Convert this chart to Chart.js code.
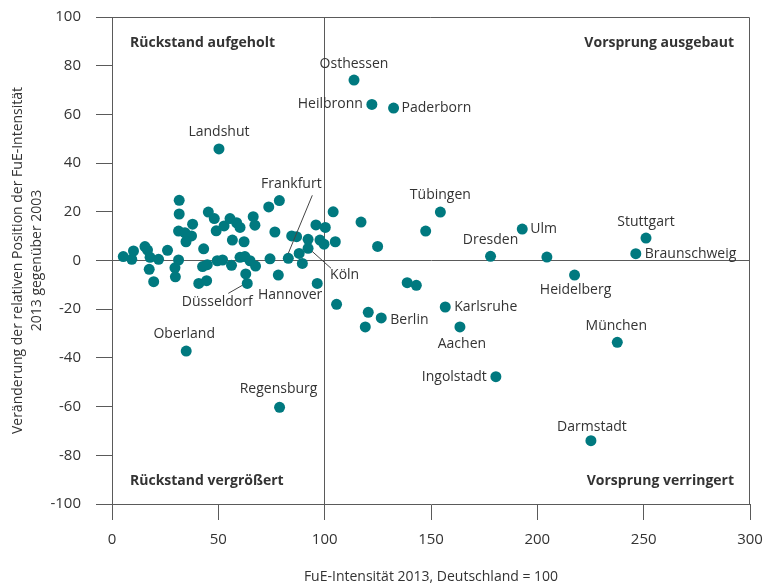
<!DOCTYPE html>
<html>
<head>
<meta charset="utf-8">
<script src="https://cdn.jsdelivr.net/npm/chart.js@4.4.1/dist/chart.umd.min.js"></script>
<style>
  body { margin: 0; background: #fff; }
  canvas { display: block; }
</style>
</head>
<body>
<canvas id="myChart" width="764" height="585"></canvas>
<script>
// named regions (x = FuE-Intensität 2013, y = Veränderung ggü. 2003)
const cityNames = ['Osthessen', 'Heilbronn', 'Paderborn', 'Landshut', 'Frankfurt', 'Köln',
  'Düsseldorf', 'Hannover', 'Tübingen', 'Ulm', 'Dresden', 'Stuttgart', 'Braunschweig',
  'Heidelberg', 'Karlsruhe', 'Berlin', 'Aachen', 'München', 'Ingolstadt', 'Darmstadt',
  'Oberland', 'Regensburg'];
const cityX = [113.8, 122.2, 132.4, 50.3, 82.9, 92.2, 63.6, 96.5, 154.4, 192.9, 178.0, 251.1,
  246.3, 217.5, 156.7, 126.6, 163.6, 237.6, 180.5, 225.2, 34.9, 78.8];
const cityY = [74.1, 64.1, 62.6, 45.8, 0.9, 5.0, -9.4, -9.4, 19.9, 12.9, 1.7, 9.2,
  2.8, -6.0, -19.1, -23.6, -27.3, -33.6, -47.7, -74.0, -37.2, -60.3];

// the other regions, unlabeled
const otherX = [31.6, 31.6, 45.3, 48.1, 37.9, 31.3, 34.3, 37.4, 34.8, 43.1, 26.1, 15.5, 16.7,
  10.1, 5.3, 9.3, 17.9, 21.9, 17.5, 19.6, 31.3, 29.6, 29.8, 40.8, 44.5, 42.6, 44.8, 49.5,
  52.0, 56.2, 49.0, 52.7, 55.5, 58.6, 60.2, 56.6, 62.1, 66.4, 67.2, 60.2, 62.5, 64.9, 67.5,
  62.9, 73.7, 78.7, 76.6, 74.3, 78.2, 84.5, 86.8, 88.0, 89.5, 92.2, 95.9, 100.3, 97.8, 99.7,
  105.0, 104.0, 105.6, 117.1, 124.9, 147.5, 204.5, 138.8, 143.1, 120.5, 119.1];
const otherY = [24.7, 19.1, 19.9, 17.2, 14.9, 12.1, 11.4, 10.1, 7.7, 4.8, 4.2, 5.7, 4.3,
  3.9, 1.6, 0.5, 1.3, 0.5, -3.6, -8.7, 0.2, -3.0, -6.7, -9.4, -8.3, -2.5, -1.7, -0.1,
  0.2, -2.0, 12.2, 14.2, 17.2, 15.5, 13.6, 8.4, 7.7, 18.0, 14.5, 1.3, 1.6, -0.1, -2.3,
  -5.5, 22.0, 24.6, 11.7, 0.7, -6.0, 10.1, 9.8, 2.9, -1.2, 8.7, 14.6, 13.6, 8.4, 6.7,
  7.7, 20.0, -18.0, 15.8, 5.8, 12.1, 1.4, -9.1, -10.2, -21.3, -27.3];

const xTicks = [0, 50, 100, 150, 200, 250, 300];
const yTicks = [-100, -80, -60, -40, -20, 0, 20, 40, 60, 80, 100];

const quadrantTexts = ['Rückstand aufgeholt', 'Vorsprung ausgebaut', 'Rückstand vergrößert', 'Vorsprung verringert'];

const TEAL = '#00797f';
const LINE = '#5a5a5a';
const TEXT = '#333333';
const FONT = "'Open Sans', sans-serif";

// label placement per city: offset from the dot in px, alignment, optional leader line
const labelStyle = {
  'Osthessen':    { dx: 0,   dy: -16, align: 'center' },
  'Heilbronn':    { dx: -9,  dy: 0,   align: 'right' },
  'Paderborn':    { dx: 8,   dy: 0,   align: 'left' },
  'Landshut':     { dx: 0,   dy: -17, align: 'center' },
  'Frankfurt':    { dx: 3,   dy: -74, align: 'center', leader: [24, -63, 0, -5] },
  'Köln':         { dx: 22,  dy: 27,  align: 'left', leader: [4, 3, 23, 20] },
  'Düsseldorf':   { dx: -30, dy: 19,  align: 'center', leader: [-5, 2, -19, 10] },
  'Hannover':     { dx: 5,   dy: 12,  align: 'right' },
  'Tübingen':     { dx: 0,   dy: -17, align: 'center' },
  'Ulm':          { dx: 8,   dy: 0,   align: 'left' },
  'Dresden':      { dx: 0,   dy: -16, align: 'center' },
  'Stuttgart':    { dx: 0,   dy: -16, align: 'center' },
  'Braunschweig': { dx: 9,   dy: 0,   align: 'left' },
  'Heidelberg':   { dx: 1,   dy: 15,  align: 'center' },
  'Karlsruhe':    { dx: 9,   dy: 0,   align: 'left' },
  'Berlin':       { dx: 9,   dy: 2,   align: 'left' },
  'Aachen':       { dx: 2,   dy: 17,  align: 'center' },
  'München':      { dx: -1,  dy: -16, align: 'center' },
  'Ingolstadt':   { dx: -9,  dy: 0,   align: 'right' },
  'Darmstadt':    { dx: 1,   dy: -14, align: 'center' },
  'Oberland':     { dx: -2,  dy: -17, align: 'center' },
  'Regensburg':   { dx: -1,  dy: -18, align: 'center' }
};

const cityPoints = cityNames.map((n, i) => ({ x: cityX[i], y: cityY[i] }));
const otherPoints = otherX.map((x, i) => ({ x: x, y: otherY[i] }));

// labels, leader lines, quadrant texts and the plot frame
const annotate = {
  id: 'annotate',
  afterDatasetsDraw(chart) {
    const { ctx, chartArea: a, scales } = chart;
    ctx.save();
    ctx.strokeStyle = LINE;
    ctx.lineWidth = 1;
    ctx.beginPath();
    ctx.moveTo(a.left, a.top + 0.5);
    ctx.lineTo(a.right - 0.5, a.top + 0.5);
    ctx.lineTo(a.right - 0.5, a.bottom);
    ctx.stroke();

    ctx.font = '14px ' + FONT;
    ctx.fillStyle = TEXT;
    ctx.textBaseline = 'middle';
    cityNames.forEach((name, i) => {
      const px = scales.x.getPixelForValue(cityX[i]);
      const py = scales.y.getPixelForValue(cityY[i]);
      const s = labelStyle[name];
      ctx.textAlign = s.align;
      ctx.fillText(name, px + s.dx, py + s.dy);
      if (s.leader) {
        ctx.beginPath();
        ctx.strokeStyle = '#444';
        ctx.moveTo(px + s.leader[0], py + s.leader[1]);
        ctx.lineTo(px + s.leader[2], py + s.leader[3]);
        ctx.stroke();
      }
    });

    ctx.font = 'bold 14px ' + FONT;
    ctx.fillStyle = TEXT;
    ctx.textAlign = 'left';
    ctx.fillText(quadrantTexts[0], a.left + 18, a.top + 26);
    ctx.fillText(quadrantTexts[2], a.left + 18, a.bottom - 23);
    ctx.textAlign = 'right';
    ctx.fillText(quadrantTexts[1], a.right - 16, a.top + 26);
    ctx.fillText(quadrantTexts[3], a.right - 16, a.bottom - 23);
    ctx.restore();
  }
};

Chart.defaults.font.family = FONT;
Chart.defaults.color = TEXT;

const chartCtx = document.getElementById('myChart').getContext('2d');
new Chart(chartCtx, {
  type: 'scatter',
  data: {
    datasets: [
      { data: otherPoints, backgroundColor: TEAL, borderWidth: 0, pointRadius: 5.5 },
      { data: cityPoints, backgroundColor: TEAL, borderWidth: 0, pointRadius: 5.5 }
    ]
  },
  options: {
    responsive: false,
    animation: false,
    layout: { padding: { top: 17, right: 14, left: 0, bottom: 0 } },
    plugins: { legend: { display: false }, tooltip: { enabled: false } },
    scales: {
      x: {
        type: 'linear',
        min: 0, max: 300,
        afterBuildTicks: s => { s.ticks = xTicks.map(v => ({ value: v })); },
        afterFit: s => { s.height = 81; s.paddingLeft = 0; s.paddingRight = 0; },
        ticks: { font: { size: 15 }, color: TEXT, padding: 11 },
        grid: {
          color: c => (c.tick && c.tick.value === 100) ? LINE : 'rgba(0,0,0,0)',
          tickColor: LINE, tickLength: 16, lineWidth: 1
        },
        border: { color: LINE },
        title: { display: true, text: 'FuE-Intensität 2013, Deutschland = 100', font: { size: 14 }, color: TEXT, padding: { top: 0, bottom: 0 } }
      },
      y: {
        type: 'linear',
        min: -100, max: 100,
        afterBuildTicks: s => { s.ticks = yTicks.map(v => ({ value: v })); },
        afterFit: s => { s.width = 112; s.paddingTop = 0; s.paddingBottom = 0; },
        ticks: { font: { size: 15 }, color: TEXT, padding: 15 },
        grid: {
          color: c => (c.tick && c.tick.value === 0) ? LINE : 'rgba(0,0,0,0)',
          tickColor: LINE, tickLength: 16, lineWidth: 1
        },
        border: { color: LINE },
        title: {
          display: true,
          text: ['Veränderung der relativen Position der FuE-Intensität', '2013 gegenüber 2003'],
          font: { size: 14, lineHeight: 1.4 }, color: TEXT, padding: { top: 8, bottom: 0 }
        }
      }
    }
  },
  plugins: [annotate]
});
</script>
</body>
</html>
